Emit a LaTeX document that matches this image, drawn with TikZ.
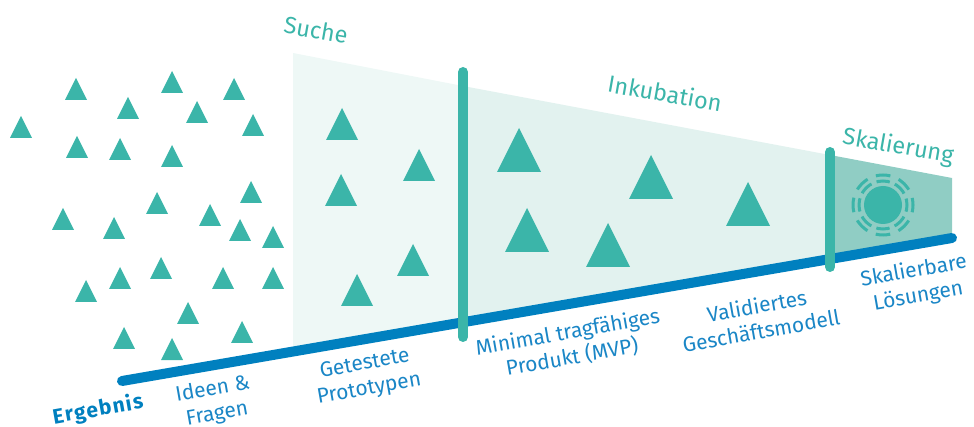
\documentclass[tikz,border=0pt]{standalone}
\usepackage{fontspec}
\setmainfont{Fira Sans}

\definecolor{petrol}{HTML}{3BB5A9}
\definecolor{suchefill}{HTML}{EEF8F6}
\definecolor{inkfill}{HTML}{E2F2EF}
\definecolor{skalfill}{HTML}{90CDC4}
\definecolor{ergblue}{HTML}{0080BF}
\definecolor{labelblue}{HTML}{1A86C6}

\tikzset{
	pics/tri/.style={code={\fill[petrol] (-#1/2,0) -- (0,-#1) -- (#1/2,0) -- cycle;}},
	phase/.style={font=\fontsize{23.5}{28}\selectfont, text=petrol, rotate=-10},
	result/.style={font=\fontsize{21}{25.5}\selectfont, text=labelblue, align=center, rotate=10},
	bar/.style={petrol, line width=10pt, line cap=round},
	ray/.style={petrol, line width=3pt}
}

\begin{document}
\begin{tikzpicture}[x=1pt, y=-1pt]
	\useasboundingbox (0,0) rectangle (974,427);

	\fill[suchefill] (293,53) -- (463,86) -- (463,321.5) -- (293,351.2) -- cycle;
	\fill[inkfill] (463,86) -- (830,155) -- (830,257.5) -- (463,321.5) -- cycle;
	\fill[skalfill] (830,155) -- (952,178) -- (952,238) -- (830,257.5) -- cycle;

	\draw[ergblue, line width=10pt, line cap=round] (122,381) -- (952,238);

	\draw[bar] (463,72) -- (463,337);
	\draw[bar] (830,152) -- (830,267);

	\pic at (76,100) {tri=22};
	\pic at (172,93) {tri=22};
	\pic at (234,100) {tri=22};
	\pic at (128,119) {tri=22};
	\pic at (197,123) {tri=22};
	\pic at (21,138) {tri=22};
	\pic at (253,136) {tri=22};
	\pic at (77,158) {tri=22};
	\pic at (120,160) {tri=22};
	\pic at (172,167) {tri=22};
	\pic at (251,203) {tri=22};
	\pic at (157,214) {tri=22};
	\pic at (63,230) {tri=22};
	\pic at (210,226) {tri=22};
	\pic at (114,239) {tri=22};
	\pic at (240,241) {tri=22};
	\pic at (273,248) {tri=22};
	\pic at (161,279) {tri=22};
	\pic at (120,289) {tri=22};
	\pic at (223,289) {tri=22};
	\pic at (273,289) {tri=22};
	\pic at (86,302) {tri=22};
	\pic at (188,324) {tri=22};
	\pic at (242,343) {tri=22};
	\pic at (124,349) {tri=22};
	\pic at (172,360) {tri=22};

	\pic at (342,140) {tri=32};
	\pic at (419,181) {tri=32};
	\pic at (341,206) {tri=32};
	\pic at (413,276) {tri=32};
	\pic at (357,306) {tri=32};

	\pic at (519,172) {tri=44};
	\pic at (527,252) {tri=44};
	\pic at (608,267) {tri=44};
	\pic at (651,199) {tri=44};
	\pic at (748,226) {tri=44};

	\coordinate (sun) at (883,205);
	\fill[petrol] (sun) circle (19);
	\draw[ray, dash pattern=on 13.4pt off 5.45pt, dash phase=6.7pt] (sun) circle (24);
	\draw[ray, dash pattern=on 14.6pt off 8.96pt, dash phase=7.3pt] (sun) circle (30);

	\node[phase] (suche) at (316,30) {Suche};
	\node[phase] (inkubation) at (665,93) {Inkubation};
	\node[phase] (skalierung) at (898,147) {Skalierung};

	\node[result, text=ergblue, font=\fontsize{21}{25.5}\selectfont\bfseries\addfontfeatures{LetterSpace=6}] (ergebnis) at (98,410) {Ergebnis};
	\node[result] (ideen) at (215,402) {Ideen \&\\Fragen};
	\node[result] (prototypen) at (367,377) {Getestete\\Prototypen};
	\node[result] (mvp) at (570,345) {Minimal tragfähiges\\Produkt (MVP)};
	\node[result] (modell) at (759,318) {Validiertes\\Geschäftsmodell};
	\node[result] (loesungen) at (916,284) {Skalierbare\\Lösungen};

\end{tikzpicture}
\end{document}
